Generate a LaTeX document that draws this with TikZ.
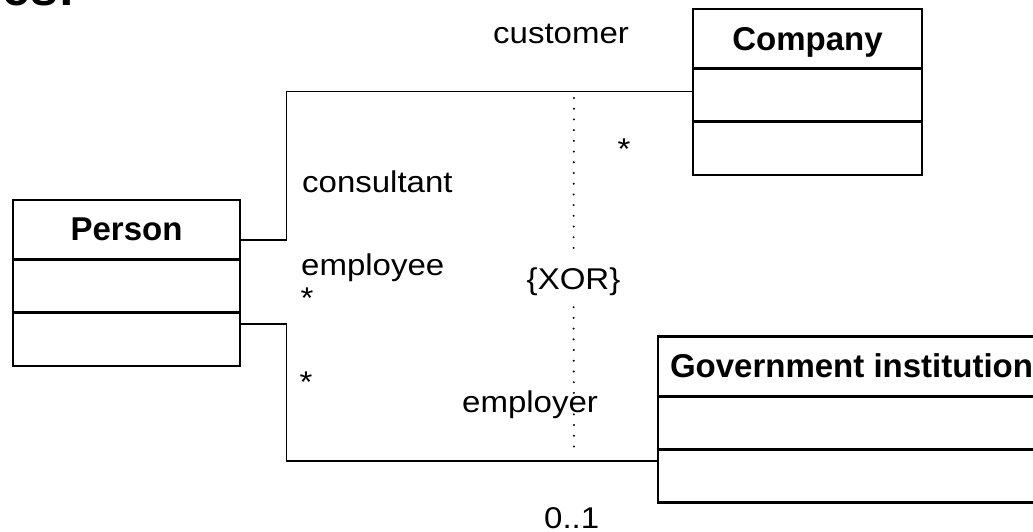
\documentclass[tikz,border=0pt]{standalone}
\usepackage{fontspec}
\setmainfont{Liberation Sans}
\newfontfamily\rolefont[FakeStretch=1.1]{Liberation Sans}

\tikzset{
  classbox/.style={draw, line width=2.8pt, minimum height=166pt, inner sep=0pt},
  classname/.style={font=\bfseries\fontsize{33}{40}\selectfont, inner sep=0pt, anchor=base},
  divider/.style={line width=2.8pt},
  assoc/.style={line width=1.8pt},
  rolelabel/.style={font=\rolefont\fontsize{30}{36}\selectfont, inner sep=0pt, anchor=base west},
  multlabel/.style={font=\rolefont\fontsize{30}{36}\selectfont, inner sep=0pt, anchor=base},
  xorline/.style={line width=2.2pt, line cap=round, dash pattern=on 0.01pt off 10.7pt},
  constraint/.style={font=\rolefont\fontsize{30}{36}\selectfont, inner sep=0pt, minimum height=50pt}
}

\begin{document}
\begin{tikzpicture}[x=1pt, y=-1pt]
\useasboundingbox (0,0) rectangle (1033,532);
\clip (0,0) rectangle (1033,532);

% slide heading, running off the top edge
\node[font=\bfseries\fontsize{50}{60}\selectfont, anchor=base east, inner sep=0pt] (heading) at (75,6) {es:};

% classes
\node[classbox, minimum width=227pt] (person) at (126.5,283) {};
\node[classbox, minimum width=229pt] (company) at (807.5,92) {};
\node[classbox, minimum width=387pt] (gov) at (851.5,419.5) {};

\foreach \c in {person, company, gov} {
  \draw[divider] ([yshift=-61pt]\c.north west) -- ([yshift=-61pt]\c.north east);
  \draw[divider] ([yshift=-114pt]\c.north west) -- ([yshift=-114pt]\c.north east);
}

\node[classname] (personname) at ([yshift=-42pt]person.north) {Person};
\node[classname] (companyname) at ([yshift=-43pt]company.north) {Company};
\node[classname] (govname) at ([yshift=-42pt]gov.north) {Government institution};

% associations
\draw[assoc] ([yshift=-41pt]person.north east) -- ++(45,0) |- ([yshift=-84pt]company.north west);
\draw[assoc] ([yshift=-125pt]person.north east) -- ++(45,0) |- ([yshift=-126pt]gov.north west);

% role names and multiplicities
\node[rolelabel] (customer) at (493,44) {customer};
\node[rolelabel] (consultant) at (302,192) {consultant};
\node[rolelabel] (employee) at (301,275) {employee};
\node[rolelabel] (employer) at (462,412) {employer};
\node[rolelabel] (zeroone) at (544,528) {0..1};
\node[multlabel] (mcompany) at (624,160) {*};
\node[multlabel] (mconsultant) at (307,308) {*};
\node[multlabel] (memployee) at (306,392) {*};

% xor constraint between the two associations
\coordinate (xortop) at (574,98);
\coordinate (xorbottom) at (574,455);
\node[constraint] (xor) at (573.5,282) {\{XOR\}};
\draw[xorline] (xortop) -- (xor);
\draw[xorline] (xor) -- (xorbottom);
\end{tikzpicture}
\end{document}
